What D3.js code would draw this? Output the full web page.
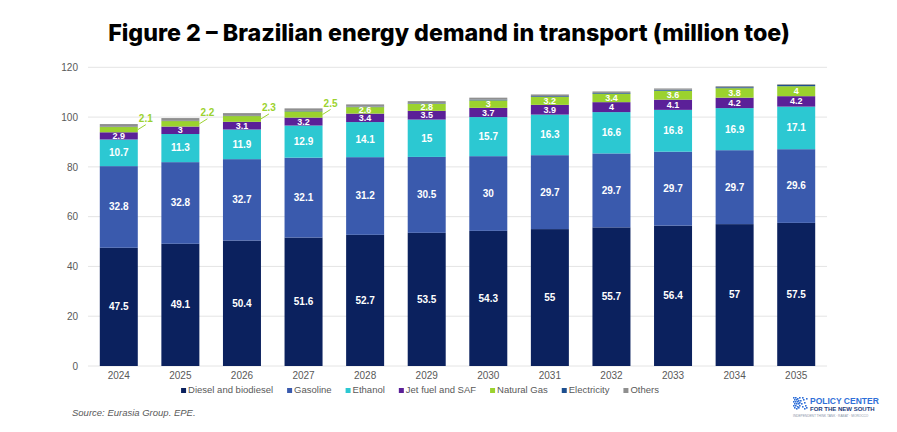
<!DOCTYPE html>
<html>
<head>
<meta charset="utf-8">
<script src="https://cdn.jsdelivr.net/npm/d3@7"></script>
<style>
  html, body { margin: 0; padding: 0; background: #fff; }
  svg { display: block; font-family: "Liberation Sans", Arial, sans-serif; }
</style>
</head>
<body>
<svg id="chart" width="897" height="432"></svg>
<script>
const years = ["2024","2025","2026","2027","2028","2029","2030","2031","2032","2033","2034","2035"];
const diesel   = [47.5, 49.1, 50.4, 51.6, 52.7, 53.5, 54.3, 55, 55.7, 56.4, 57, 57.5];
const gasoline = [32.8, 32.8, 32.7, 32.1, 31.2, 30.5, 30, 29.7, 29.7, 29.7, 29.7, 29.6];
const ethanol  = [10.7, 11.3, 11.9, 12.9, 14.1, 15, 15.7, 16.3, 16.6, 16.8, 16.9, 17.1];
const jetFuel  = [2.9, 3, 3.1, 3.2, 3.4, 3.5, 3.7, 3.9, 4, 4.1, 4.2, 4.2];
const naturalGas = [2.1, 2.2, 2.3, 2.5, 2.6, 2.8, 3, 3.2, 3.4, 3.6, 3.8, 4];
const electricity = [0.1, 0.1, 0.1, 0.2, 0.2, 0.2, 0.3, 0.3, 0.3, 0.4, 0.4, 0.5];
const others   = [1.1, 1.1, 1.1, 1.0, 0.9, 0.9, 0.8, 0.7, 0.6, 0.5, 0.4, 0.3];
const yTicks = [0, 20, 40, 60, 80, 100, 120];

const seriesNames = ["Diesel and biodiesel","Gasoline","Ethanol","Jet fuel and SAF","Natural Gas","Electricity","Others"];
const seriesValues = [diesel, gasoline, ethanol, jetFuel, naturalGas, electricity, others];
const colors = ["#0b215e","#3a5aad","#2cc8d2","#5b2098","#9bd22e","#1d4f8f","#8f8f8f"];
const labelled = [true, true, true, true, true, false, false];

const svg = d3.select("#chart");

// Title (fit to reference width)
const title = svg.append("text")
  .attr("x", 449).attr("y", 41)
  .attr("text-anchor", "middle")
  .attr("font-family", "Inter, 'Liberation Sans', Arial, sans-serif")
  .attr("font-size", 20).attr("font-weight", 800)
  .attr("fill", "#000")
  .text("Figure 2 – Brazilian energy demand in transport (million toe)");
const tw = title.node().getComputedTextLength();
title.attr("font-size", 20 * 682 / tw);

const x = d3.scaleBand().domain(years).range([88, 827]).paddingInner(0.383).paddingOuter(0.1915);
const y = d3.scaleLinear().domain([0, 120]).range([366, 67.3]);

// gridlines
svg.append("g").selectAll("line").data(yTicks).join("line")
  .attr("x1", 88).attr("x2", 827)
  .attr("y1", d => y(d)).attr("y2", d => y(d))
  .attr("stroke", "#e4e4e4").attr("stroke-width", 1);

// y axis labels
const yAxis = d3.axisLeft(y).tickValues(yTicks).tickSize(0).tickPadding(0);
const gy = svg.append("g").attr("transform", "translate(78,0)").call(yAxis);
gy.select(".domain").remove();
gy.selectAll("text").attr("font-size", 10).attr("fill", "#595959")
  .attr("font-family", "Liberation Sans, Arial, sans-serif");

// x axis labels
const xAxis = d3.axisBottom(x).tickSize(0).tickPadding(0);
const gx = svg.append("g").attr("transform", "translate(0,372)").call(xAxis);
gx.select(".domain").remove();
gx.selectAll("text").attr("font-size", 10).attr("fill", "#595959")
  .attr("font-family", "Liberation Sans, Arial, sans-serif");

// stack data
const table = years.map((yr, i) => {
  const row = { year: yr };
  seriesNames.forEach((s, k) => row[s] = seriesValues[k][i]);
  return row;
});
const stack = d3.stack().keys(seriesNames)(table);

const barsG = svg.append("g");
stack.forEach((layer, k) => {
  barsG.append("g").attr("fill", colors[k]).selectAll("rect").data(layer).join("rect")
    .attr("x", d => x(d.data.year))
    .attr("width", x.bandwidth())
    .attr("y", d => y(d[1]))
    .attr("height", d => y(d[0]) - y(d[1]));
});

// labels
const labG = svg.append("g").attr("font-weight", "bold").attr("text-anchor", "middle");
stack.forEach((layer, k) => {
  if (!labelled[k]) return;
  const fs = k >= 3 ? 9 : 10;
  layer.forEach((d, i) => {
    const val = seriesValues[k][i];
    const mid = y((d[0] + d[1]) / 2);
    const cx = x(d.data.year) + x.bandwidth() / 2;
    if (k === 4 && i < 4) {
      const bx = x(d.data.year) + x.bandwidth();
      labG.append("line")
        .attr("x1", bx).attr("y1", mid)
        .attr("x2", bx + 8).attr("y2", mid - 5)
        .attr("stroke", "#9bd22e").attr("stroke-width", 1);
      labG.append("text")
        .attr("x", bx + 8).attr("y", mid - 7.5)
        .attr("font-size", 10)
        .attr("fill", "#9bd22e")
        .text(val);
    } else {
      labG.append("text")
        .attr("x", cx).attr("y", mid + fs * 0.34)
        .attr("font-size", fs)
        .attr("fill", "#fff")
        .text(val);
    }
  });
});

// legend
const legG = svg.append("g").attr("font-size", 9.5).attr("fill", "#595959");
let lx = 0;
seriesNames.forEach((name, k) => {
  const g = legG.append("g");
  g.append("rect").attr("x", 0).attr("y", -4.5).attr("width", 5).attr("height", 5).attr("fill", colors[k]);
  const t = g.append("text").attr("x", 7).attr("y", 0.5).attr("fill", "#595959").text(name);
  const w = 7 + t.node().getComputedTextLength();
  g.attr("transform", `translate(${lx},0)`);
  lx += w + 14;
});
const totalW = lx - 14;
legG.attr("transform", `translate(${420 - totalW / 2},392.5)`);

// source
svg.append("text")
  .attr("x", 72).attr("y", 416)
  .attr("font-size", 9.5).attr("font-style", "italic")
  .attr("fill", "#595959")
  .text("Source: Eurasia Group. EPE.");

// logo
const logo = svg.append("g").attr("transform", "translate(793,397)");
const dots = [[0,0],[2,0],[4,1],[6,0],[1,2],[3,2],[5,3],[0,4],[2,4],[4,4],[6,5],[1,6],[3,6],[5,6],[0,8],[2,8],[4,9],[6,8],[1,10],[3,11],[5,10],[7,3],[8,6],[9,9],[10,2],[11,5],[12,8],[13,1],[13,10],[9,0],[11,11]];
logo.selectAll("rect").data(dots).join("rect")
  .attr("x", d => d[0]).attr("y", d => d[1])
  .attr("width", 1.6).attr("height", 1.6).attr("fill", "#2f6fd8");
logo.append("text").attr("x", 17).attr("y", 7)
  .attr("font-size", 8.5).attr("font-weight", "bold").attr("fill", "#2f6fd8")
  .text("POLICY CENTER");
logo.append("text").attr("x", 17).attr("y", 14)
  .attr("font-size", 6).attr("font-weight", "bold").attr("fill", "#1b3a7a")
  .text("FOR THE NEW SOUTH");
logo.append("text").attr("x", 0).attr("y", 20)
  .attr("font-size", 3.2).attr("fill", "#8a94a8")
  .text("INDEPENDENT THINK TANK · RABAT · MOROCCO");
</script>
</body>
</html>
